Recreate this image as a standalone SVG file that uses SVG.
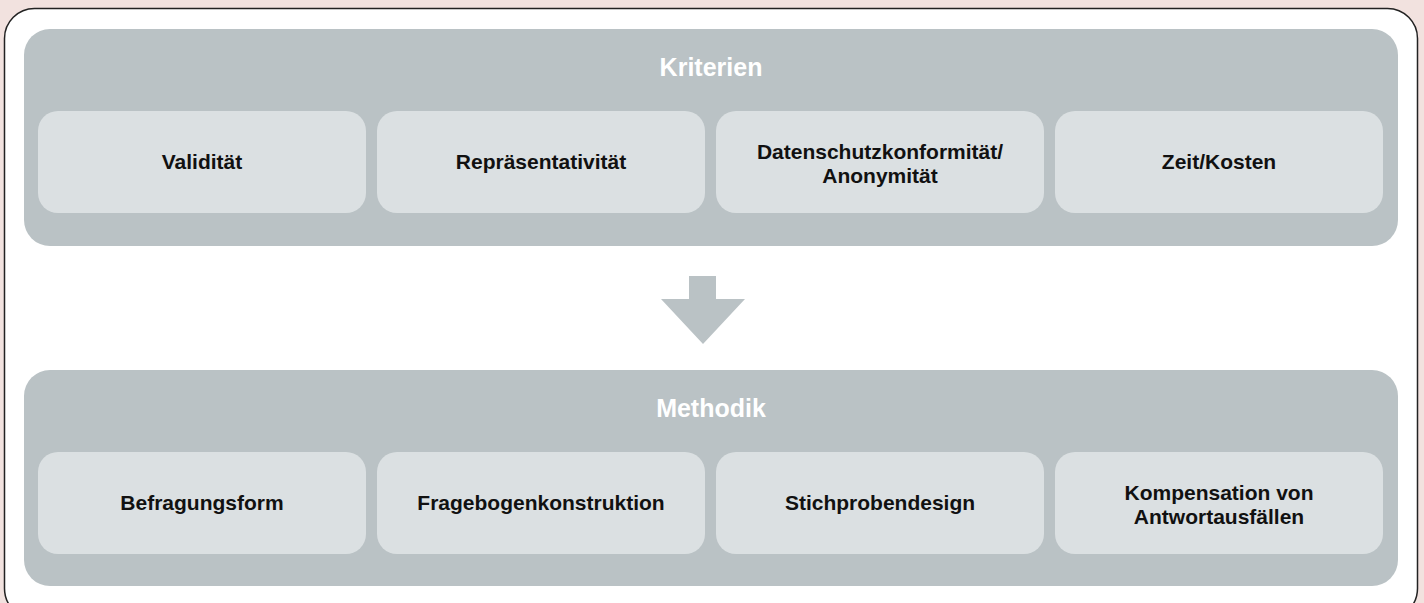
<svg xmlns="http://www.w3.org/2000/svg" width="1424" height="603" viewBox="0 0 1424 603">
<style>
.panel{fill:#bac2c5}
.box{fill:#dbe0e2}
.title{font-family:"Liberation Sans",Arial,sans-serif;font-weight:bold;font-size:25px;fill:#ffffff;text-anchor:middle}
.lbl{font-family:"Liberation Sans",Arial,sans-serif;font-weight:bold;font-size:21px;fill:#111111;text-anchor:middle}
</style>
<rect x="0" y="0" width="1424" height="603" fill="#f2e2df"/>
<rect x="4.5" y="8.5" width="1413" height="610" rx="30" ry="30" fill="#ffffff" stroke="#222222" stroke-width="1.5"/>
<g id="kriterien">
<rect class="panel" x="24" y="29" width="1374" height="217" rx="26" ry="26"/>
<text class="title" x="711" y="76">Kriterien</text>
</g>
<g id="validitaet">
<rect class="box" x="38" y="111" width="328" height="102" rx="20" ry="20"/>
<text class="lbl" x="202" y="169">Validität</text>
</g>
<g id="repraesentativitaet">
<rect class="box" x="377" y="111" width="328" height="102" rx="20" ry="20"/>
<text class="lbl" x="541" y="169">Repräsentativität</text>
</g>
<g id="datenschutz">
<rect class="box" x="716" y="111" width="328" height="102" rx="20" ry="20"/>
<text class="lbl" x="880" y="159">Datenschutzkonformität/</text>
<text class="lbl" x="880" y="183">Anonymität</text>
</g>
<g id="zeitkosten">
<rect class="box" x="1055" y="111" width="328" height="102" rx="20" ry="20"/>
<text class="lbl" x="1219" y="169">Zeit/Kosten</text>
</g>
<g id="connectors">
<polygon class="panel" points="689,276 716,276 716,299 745,299 703,344 661,299 689,299"/>
</g>
<g id="methodik">
<rect class="panel" x="24" y="370" width="1374" height="216" rx="26" ry="26"/>
<text class="title" x="711" y="417">Methodik</text>
</g>
<g id="befragungsform">
<rect class="box" x="38" y="452" width="328" height="102" rx="20" ry="20"/>
<text class="lbl" x="202" y="510">Befragungsform</text>
</g>
<g id="fragebogen">
<rect class="box" x="377" y="452" width="328" height="102" rx="20" ry="20"/>
<text class="lbl" x="541" y="510">Fragebogenkonstruktion</text>
</g>
<g id="stichprobe">
<rect class="box" x="716" y="452" width="328" height="102" rx="20" ry="20"/>
<text class="lbl" x="880" y="510">Stichprobendesign</text>
</g>
<g id="kompensation">
<rect class="box" x="1055" y="452" width="328" height="102" rx="20" ry="20"/>
<text class="lbl" x="1219" y="500">Kompensation von</text>
<text class="lbl" x="1219" y="524">Antwortausfällen</text>
</g>
</svg>
